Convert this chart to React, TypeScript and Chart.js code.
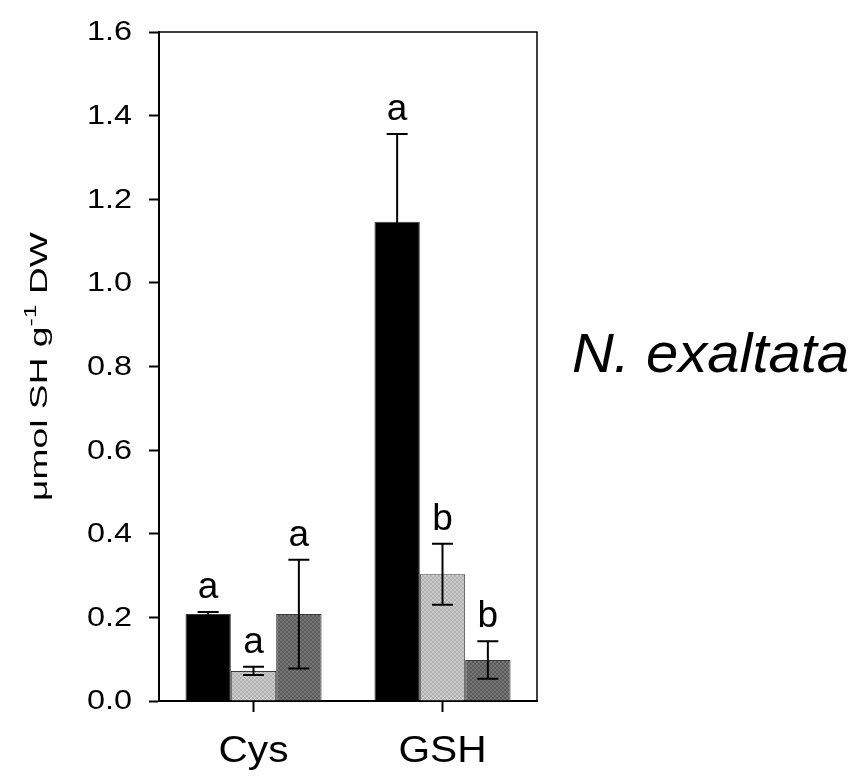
import React, { useEffect, useRef } from "react";
import { Chart, registerables } from "chart.js";

Chart.register(...registerables);

// ---- data ----
const categories = ["Cys", "GSH"];
const seriesBlack = [0.208, 1.146];
const seriesLight = [0.072, 0.303];
const seriesDark = [0.208, 0.098];
const errorBlack = [0.005, 0.21];
const errorLight = [0.01, 0.073];
const errorDark = [0.13, 0.045];
const lettersBlack = ["a", "a"];
const lettersLight = ["a", "b"];
const lettersDark = ["a", "b"];
const yMin = 0;
const yMax = 1.6;
const yStep = 0.2;
const yTitleMain = "μmol SH g";
const yTitleSup = "-1";
const yTitleEnd = " DW";
const speciesLabel = "N. exaltata";

const FONT = '"Liberation Sans", Arial, Helvetica, sans-serif';

function makePattern(colors: string[]): CanvasPattern | string {
  const c = document.createElement("canvas");
  c.width = 4;
  c.height = 4;
  const ctx = c.getContext("2d");
  if (!ctx) return colors[0];
  const order = [0, 2, 1, 3, 3, 1, 2, 0, 1, 3, 0, 2, 2, 0, 3, 1];
  for (let i = 0; i < 16; i++) {
    ctx.fillStyle = colors[order[i] % colors.length];
    ctx.fillRect(i % 4, Math.floor(i / 4), 1, 1);
  }
  return ctx.createPattern(c, "repeat") || colors[0];
}

function stretchedText(
  ctx: CanvasRenderingContext2D,
  text: string,
  x: number,
  y: number,
  font: string,
  sx: number,
  align: CanvasTextAlign,
  baseline: CanvasTextBaseline
) {
  ctx.save();
  ctx.translate(x, y);
  ctx.scale(sx, 1);
  ctx.font = font;
  ctx.fillStyle = "#000";
  ctx.textAlign = align;
  ctx.textBaseline = baseline;
  ctx.fillText(text, 0, 0);
  ctx.restore();
}

export default function App() {
  const ref = useRef<HTMLCanvasElement | null>(null);

  useEffect(() => {
    document.body.style.margin = "0";
    const canvas = ref.current;
    if (!canvas) return;

    const errors = [errorBlack, errorLight, errorDark];
    const letters = [lettersBlack, lettersLight, lettersDark];

    const overlay = {
      id: "overlay",
      afterDatasetsDraw(chart: any) {
        const ctx = chart.ctx as CanvasRenderingContext2D;
        const ys = chart.scales.y;
        ctx.save();
        ctx.strokeStyle = "#000";
        ctx.lineWidth = 2;
        chart.data.datasets.forEach((ds: any, di: number) => {
          const meta = chart.getDatasetMeta(di);
          meta.data.forEach((bar: any, i: number) => {
            const v = ds.data[i] as number;
            const e = errors[di][i];
            const x = bar.x;
            const yt = ys.getPixelForValue(v + e);
            const yb = ys.getPixelForValue(v - e);
            const cap = 10.5;
            ctx.beginPath();
            ctx.moveTo(x, yt);
            ctx.lineTo(x, yb);
            ctx.moveTo(x - cap, yt);
            ctx.lineTo(x + cap, yt);
            ctx.moveTo(x - cap, yb);
            ctx.lineTo(x + cap, yb);
            ctx.stroke();
            ctx.fillStyle = "#000";
            ctx.font = `37px ${FONT}`;
            ctx.textAlign = "center";
            ctx.textBaseline = "alphabetic";
            ctx.fillText(letters[di][i], x, yt - 14);
          });
        });
        ctx.restore();
      },
      afterDraw(chart: any) {
        const ctx = chart.ctx as CanvasRenderingContext2D;
        const a = chart.chartArea;
        const xs = chart.scales.x;
        const ys = chart.scales.y;
        ctx.save();
        // top and right frame lines
        ctx.strokeStyle = "#000";
        ctx.lineWidth = 1.5;
        ctx.beginPath();
        ctx.moveTo(a.left, a.top);
        ctx.lineTo(a.right, a.top);
        ctx.lineTo(a.right, a.bottom);
        ctx.stroke();
        ctx.restore();

        // y tick labels
        ys.ticks.forEach((t: any) => {
          const py = ys.getPixelForValue(t.value);
          stretchedText(ctx, Number(t.value).toFixed(1), a.left - 27, py + 1, `27px ${FONT}`, 1.2, "right", "middle");
        });
        // x tick labels
        xs.ticks.forEach((t: any, i: number) => {
          const px = xs.getPixelForValue(i);
          stretchedText(ctx, String(categories[i]), px, a.bottom + 61, `36px ${FONT}`, 1.13, "center", "alphabetic");
        });

        // y-axis title with superscript
        ctx.save();
        const mainFont = `24px ${FONT}`;
        const supFont = `16px ${FONT}`;
        ctx.font = mainFont;
        const w1 = ctx.measureText(yTitleMain).width;
        const w3 = ctx.measureText(yTitleEnd).width;
        ctx.font = supFont;
        const w2 = ctx.measureText(yTitleSup).width;
        const total = w1 + w2 + w3;
        const stretch = 1.55;
        ctx.translate(47, (a.top + a.bottom) / 2);
        ctx.rotate(-Math.PI / 2);
        ctx.scale(stretch, 1);
        ctx.fillStyle = "#000";
        ctx.textAlign = "left";
        ctx.textBaseline = "alphabetic";
        let x = -total / 2;
        ctx.font = mainFont;
        ctx.fillText(yTitleMain, x, 0);
        x += w1;
        ctx.font = supFont;
        ctx.fillText(yTitleSup, x, -11);
        x += w2;
        ctx.font = mainFont;
        ctx.fillText(yTitleEnd, x, 0);
        ctx.restore();

        // species label
        stretchedText(ctx, speciesLabel, a.right + 35, 372, `italic 56px ${FONT}`, 1.035, "left", "alphabetic");
      },
    };

    const barBorder = "#3a3a3a";
    const chart = new Chart(canvas, {
      type: "bar",
      data: {
        labels: categories,
        datasets: [
          {
            data: seriesBlack,
            backgroundColor: "#000000",
            borderColor: barBorder,
            borderWidth: 1,
          },
          {
            data: seriesLight,
            backgroundColor: makePattern(["#d6d6d6", "#b4b4b4", "#c8c8c8", "#a8a8a8"]) as any,
            borderColor: barBorder,
            borderWidth: 1,
          },
          {
            data: seriesDark,
            backgroundColor: makePattern(["#7c7c7c", "#5e5e5e", "#727272", "#545454"]) as any,
            borderColor: barBorder,
            borderWidth: 1,
          },
        ],
      },
      options: {
        responsive: false,
        animation: false,
        devicePixelRatio: 1,
        layout: { padding: { top: 32, right: 316, left: 0, bottom: 0 } },
        datasets: {
          bar: { categoryPercentage: 0.72, barPercentage: 1 },
        },
        plugins: {
          legend: { display: false },
          tooltip: { enabled: false },
        },
        scales: {
          x: {
            offset: true,
            grid: {
              offset: false,
              drawOnChartArea: false,
              drawTicks: true,
              tickLength: 11,
              tickWidth: 2,
              tickColor: "#000",
            },
            border: { display: true, color: "#000", width: 2 },
            ticks: { display: false },
            afterFit: (scale: any) => {
              scale.height = 77;
            },
          },
          y: {
            min: yMin,
            max: yMax,
            grid: {
              drawOnChartArea: false,
              drawTicks: true,
              tickLength: 10,
              tickWidth: 2,
              tickColor: "#000",
            },
            border: { display: true, color: "#000", width: 2 },
            ticks: { stepSize: yStep, display: false },
            afterFit: (scale: any) => {
              scale.width = 159;
            },
          },
        },
      },
      plugins: [overlay],
    });

    return () => chart.destroy();
  }, []);

  return (
    <div style={{ width: 853, height: 778 }}>
      <canvas ref={ref} width={853} height={778} style={{ display: "block" }} />
    </div>
  );
}
